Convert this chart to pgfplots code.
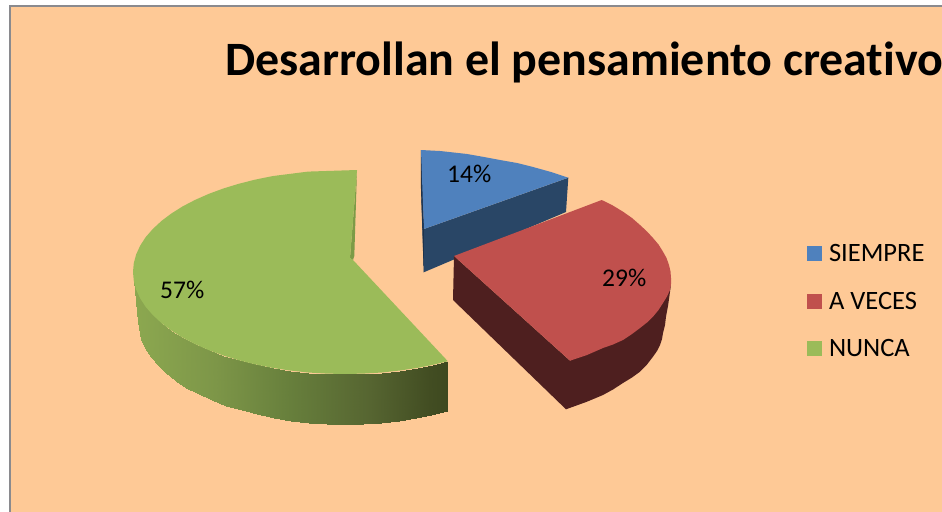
\documentclass[border=0pt]{standalone}
\usepackage{fontspec}
\setmainfont{Carlito}[Ligatures=NoCommon]
\usepackage{pgfplots}
\pgfplotsset{compat=1.18}
\definecolor{bgc}{RGB}{254,201,150}
\definecolor{framec}{RGB}{138,138,142}
\definecolor{bluetop}{RGB}{79,129,189}
\definecolor{blueside}{RGB}{41,70,102}
\definecolor{bluedark}{RGB}{30,50,75}
\definecolor{redtop}{RGB}{192,80,77}
\definecolor{redside}{RGB}{78,31,31}
\definecolor{greentop}{RGB}{155,187,89}
\definecolor{greensliver}{RGB}{125,155,70}
\pgfplotsset{colormap={greenside}{rgb255(133)=(140,168,80) rgb255(215)=(125,150,72) rgb255(290)=(103,127,60) rgb255(370)=(86,101,49) rgb255(430)=(66,77,34) rgb255(448)=(62,73,32)}}
\begin{document}
\begin{tikzpicture}
\begin{axis}[
  scale only axis, width=942bp, height=512bp,
  xmin=0, xmax=942, ymin=0, ymax=512, y dir=reverse,
  hide axis, clip=true,
  legend cell align=left,
  legend style={draw=none, fill=none, at={(0.8567,0.5215)}, anchor=north west,
    font=\fontsize{26.5bp}{26.5bp}\selectfont, inner sep=0pt, outer sep=0pt,
    row sep=30.5bp, nodes={inner sep=0pt, text height=17bp, text depth=0bp}},
  legend image code/.code={\fill[#1] (0bp,-8bp) rectangle (15bp,7bp); \path (22bp,0bp);},
]
% page and chart area
\addplot[fill=white, draw=none, forget plot] coordinates {(0,0) (942,0) (942,512) (0,512)} --cycle;
\addplot[fill=bgc, draw=none, forget plot] coordinates {(10,7) (942,7) (942,512) (10,512)} --cycle;
\addplot[draw=framec, line width=2bp, forget plot] coordinates {(9.5,512) (9.5,6.5) (942,6.5)};
% blue slice
\addplot[fill=blueside, draw=none, forget plot] coordinates {(424,229) (568.3,177.7) (566,212) (423.7,272.3) (421,190)} --cycle;
\addplot[fill=bluedark, draw=none, forget plot] coordinates {(420.8,150) (422,150) (424,229) (423.7,272.3) (422.5,230) (421,190)} --cycle;
\addplot[fill=bluetop, draw=none, forget plot] coordinates {(421,150) (440,151) (467,154) (484,157) (500,160) (517,163) (533,167) (551,172) (568.3,177.7) (424,229) (422.8,200)} --cycle;
% red slice
\addplot[fill=redside, draw=none, forget plot] coordinates {(454,256) (453,300) (566,409.3) (587,401.7) (603,395) (613,389.5) (623,383) (632,377.5) (640,371.7) (647,364.5) (653,356.7) (657,351) (660,345) (662,339) (663,333) (665,325) (666,316.7) (668,306) (669.3,297) (670.5,288) (671,278) (570,360.7)} --cycle;
\addplot[fill=redtop, draw=none, forget plot] coordinates {(454,256) (601.7,200) (612,205) (623,211.7) (632,218) (640,225) (647,231.5) (653,238) (658.5,244.5) (663,251.7) (666.5,258) (669,265) (670.5,271.5) (671,278) (671,284) (670,290) (667,296.5) (663,303) (658.5,310) (653,316.7) (647,322.5) (640,328) (632,334) (623,340) (613,344.5) (603,348) (595,351.5) (587,355) (570,360.7)} --cycle;
% green slice: side with its shading, sliver, top
\addplot[surf, shader=interp, mesh/rows=2, point meta=x, forget plot] table {
x y
133.5 280
136.2 289.7
140.2 298.4
145.7 306.9
152.9 315.1
161.4 323
171.4 330.5
182.6 337.6
195.1 344.1
208.7 350.1
223.3 355.5
239 360.3
255.3 364.4
272.5 367.9
290.1 370.5
308.1 372.5
326.6 373.6
345 374
363.4 373.6
381.9 372.5
399.9 370.5
417.5 367.9
433 364.8
447.8 361.2
138 322
141 339.7
145 348.4
150.5 356.9
157.5 365.1
165.7 373
175.5 380.5
186.4 387.6
198.6 394.1
211.9 400.1
226.2 405.5
241.5 410.3
257.4 414.4
274.2 417.9
291.4 420.5
309 422.5
327 423.6
345 424
363 423.6
381 422.5
398.6 420.5
415.8 417.9
431 414.8
447.3 410.5
};
\addplot[fill=greensliver, draw=none, forget plot] coordinates {(357,170) (354.3,256) (353,260) (350,258)} --cycle;
\addplot[fill=greentop, draw=none, forget plot] coordinates {(357,170) (308,171.6) (272.5,176.1) (255.3,179.6) (239,183.7) (223.3,188.5) (208.7,193.9) (195.1,199.9) (182.6,206.4) (171.4,213.5) (161.4,221) (152.9,228.9) (145.7,237.1) (140.2,245.6) (136.2,254.3) (133.8,263.1) (133,272) (133.8,280.9) (136.2,289.7) (140.2,298.4) (145.7,306.9) (152.9,315.1) (161.4,323) (171.4,330.5) (182.6,337.6) (195.1,344.1) (208.7,350.1) (223.3,355.5) (239,360.3) (255.3,364.4) (272.5,367.9) (290.1,370.5) (308.1,372.5) (326.6,373.6) (345,374) (363.4,373.6) (381.9,372.5) (399.9,370.5) (417.5,367.9) (433,364.8) (447.8,361.2) (353,260) (350,258)} --cycle;
% title and data labels
\node[anchor=base west, inner sep=0pt, font=\fontsize{47.9bp}{47.9bp}\selectfont\bfseries] at (axis cs:225,75.5) {Desarrollan el pensamiento creativo};
\node[anchor=base west, inner sep=0pt, font=\fontsize{25.5bp}{25.5bp}\selectfont] at (axis cs:447,182.7) {14\%};
\node[anchor=base west, inner sep=0pt, font=\fontsize{25.5bp}{25.5bp}\selectfont] at (axis cs:602,286) {29\%};
\node[anchor=base west, inner sep=0pt, font=\fontsize{25.5bp}{25.5bp}\selectfont] at (axis cs:160,298) {57\%};
% legend
\addlegendimage{fill=bluetop, draw=none}
\addlegendentry{SIEMPRE}
\addlegendimage{fill=redtop, draw=none}
\addlegendentry{A VECES}
\addlegendimage{fill=greentop, draw=none}
\addlegendentry{NUNCA}
\end{axis}
\end{tikzpicture}
\end{document}
